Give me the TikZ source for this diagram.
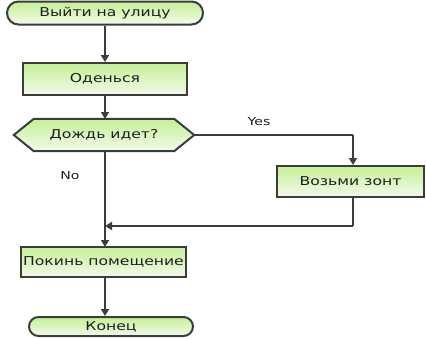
\documentclass[tikz,border=0pt]{standalone}
\usepackage{fontspec}
\newfontfamily\flowfont[FakeStretch=1.28]{DejaVu Sans}
\usetikzlibrary{arrows.meta,calc,backgrounds}
\definecolor{bordc}{RGB}{60,60,60}
\definecolor{topc}{RGB}{196,240,150}
\definecolor{botc}{RGB}{243,250,236}
\definecolor{txtc}{RGB}{30,30,30}
\begin{document}
\begin{tikzpicture}[x=1pt,y=-1pt,
  common/.style={draw=bordc, line width=2pt, top color=topc, bottom color=botc,
    font=\flowfont\fontsize{12.2}{14}\selectfont, text=txtc, inner sep=0pt},
  term/.style={common, rectangle, rounded corners=#1},
  proc/.style={common, rectangle},
  hexbg/.style={draw=bordc, line width=2pt, top color=topc, bottom color=botc, line join=miter},
  conn/.style={line width=2pt, draw=bordc, -{Triangle[length=7pt,width=8pt]}},
  plain/.style={line width=2pt, draw=bordc},
  lbl/.style={font=\flowfont\fontsize{11}{13}\selectfont, text=txtc}]
\useasboundingbox (0,0) rectangle (426,338);
\node[term=11.5pt, minimum width=196pt, minimum height=23pt] (start) at (105,13) {Выйти на улицу};
\node[proc, minimum width=164pt, minimum height=32pt] (dress) at (105,79) {Оденься};
\node[font=\flowfont\fontsize{12.2}{14}\selectfont, text=txtc, inner sep=0pt,
  minimum width=180pt, minimum height=32pt] (rain) at (104,135) {Дождь идет?};
\begin{scope}[on background layer]
\path[hexbg] (rain.west) -- ($(rain.north west)+(20,0)$) -- ($(rain.north east)+(-20,0)$)
  -- (rain.east) -- ($(rain.south east)+(-20,0)$) -- ($(rain.south west)+(20,0)$) -- cycle;
\end{scope}
\node[proc, minimum width=147pt, minimum height=31pt] (umb) at (350.5,181.5) {Возьми зонт};
\node[proc, minimum width=165pt, minimum height=30pt] (leave) at (103.5,262) {Покинь помещение};
\node[term=9.5pt, minimum width=164pt, minimum height=19pt] (end) at (111,326.5) {Конец};
\coordinate (merge) at (105,226);
\coordinate (turn) at (353,135);
\coordinate (back) at (353,226);
\draw[conn] (start.south) -- (dress.north);
\draw[conn] (dress.south) -- (105,119);
\draw[plain] (rain.east) -- (turn);
\draw[conn] (turn) -- (turn |- umb.north);
\draw[plain] (turn |- umb.south) -- (back);
\draw[conn] (back) -- (merge);
\draw[conn] (105,151) -- (105,247);
\draw[conn] (leave.south -| merge) -- (merge |- end.north);
\node[lbl] (yes) at (259,122) {Yes};
\node[lbl] (no) at (70,176) {No};
\end{tikzpicture}
\end{document}
